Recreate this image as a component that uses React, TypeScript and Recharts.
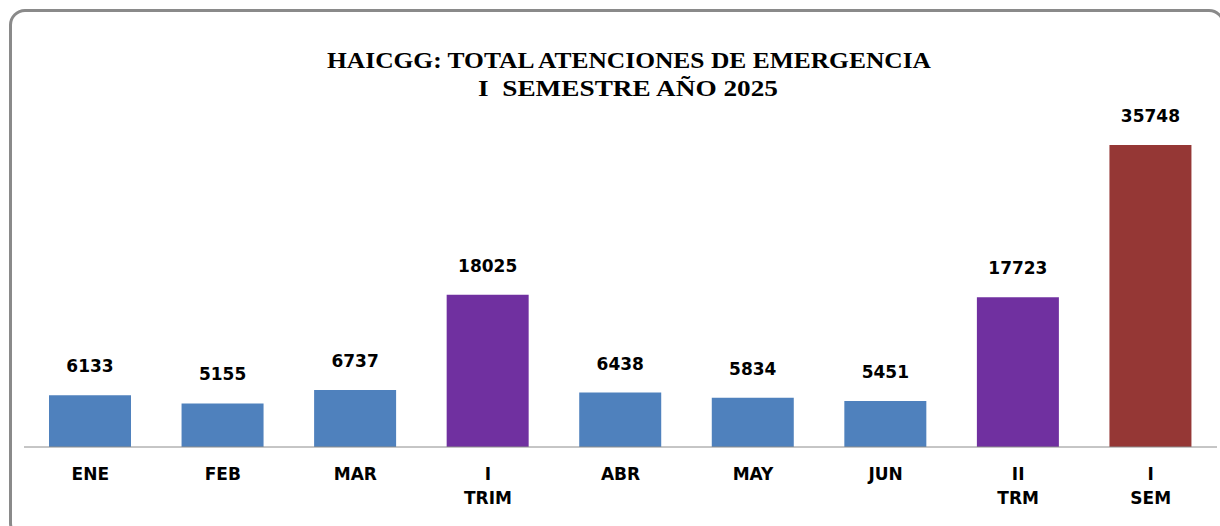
import { BarChart, Bar, XAxis, YAxis, Cell, LabelList } from "recharts";

const categories = ["ENE", "FEB", "MAR", "I\nTRIM", "ABR", "MAY", "JUN", "II\nTRM", "I\nSEM"];
const totals = [6133, 5155, 6737, 18025, 6438, 5834, 5451, 17723, 35748];
const barColors = [
  "#4F81BD",
  "#4F81BD",
  "#4F81BD",
  "#7030A0",
  "#4F81BD",
  "#4F81BD",
  "#4F81BD",
  "#7030A0",
  "#953735",
];
const titleLines = ["HAICGG: TOTAL ATENCIONES DE EMERGENCIA", "I  SEMESTRE AÑO 2025"];

const chartData = categories.map((name, i) => ({ name, total: totals[i] }));

const labelFont = "'DejaVu Sans', Verdana, sans-serif";

function TwoLineTick(props: any) {
  const { x, y, payload } = props;
  const lines = String(payload.value).split("\n");
  return (
    <text
      x={x}
      y={y}
      textAnchor="middle"
      fontFamily={labelFont}
      fontWeight="bold"
      fontSize={17}
      fill="#000"
    >
      {lines.map((line, i) => (
        <tspan key={i} x={x} dy={i === 0 ? 25 : 24}>
          {line}
        </tspan>
      ))}
    </text>
  );
}

export default function App() {
  return (
    <div
      style={{
        position: "absolute",
        left: 0,
        top: 0,
        width: 1220,
        height: 526,
        overflow: "hidden",
        background: "#fff",
      }}
    >
      <div
        style={{
          position: "absolute",
          left: 9,
          top: 9,
          width: 1216,
          height: 530,
          border: "3px solid #8a8a8a",
          borderRadius: 16,
          boxSizing: "border-box",
        }}
      />
      <svg
        width={1220}
        height={120}
        style={{ position: "absolute", left: 0, top: 0 }}
      >
        <text
          x={629}
          y={68}
          textAnchor="middle"
          fontFamily="'Liberation Serif', serif"
          fontWeight="bold"
          fontSize={23}
          textLength={604}
          lengthAdjust="spacingAndGlyphs"
          fill="#000"
        >
          {titleLines[0]}
        </text>
        <text
          x={628}
          y={96}
          textAnchor="middle"
          fontFamily="'Liberation Serif', serif"
          fontWeight="bold"
          fontSize={23}
          textLength={300}
          lengthAdjust="spacingAndGlyphs"
          fill="#000"
          style={{ whiteSpace: "pre" }}
        >
          {titleLines[1]}
        </text>
      </svg>
      <div style={{ position: "absolute", left: 0, top: 0 }}>
        <BarChart
          width={1220}
          height={526}
          data={chartData}
          margin={{ top: 109, right: 3, bottom: 0, left: 24 }}
        >
          <XAxis
            dataKey="name"
            axisLine={{ stroke: "#8c8c8c", strokeWidth: 1 }}
            tickLine={false}
            tick={<TwoLineTick />}
            interval={0}
            height={79}
          />
          <YAxis hide domain={[0, 40000]} />
          <Bar dataKey="total" barSize={82} isAnimationActive={false}>
            {chartData.map((_, i) => (
              <Cell key={i} fill={barColors[i]} />
            ))}
            <LabelList
              dataKey="total"
              position="top"
              offset={23}
              fontFamily={labelFont}
              fontWeight="bold"
              fontSize={17}
              fill="#000"
            />
          </Bar>
        </BarChart>
      </div>
    </div>
  );
}
